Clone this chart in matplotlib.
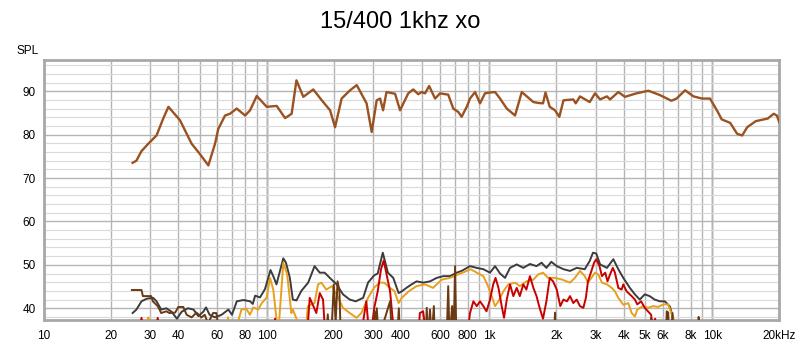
import numpy as np
import matplotlib
matplotlib.use("Agg")
import matplotlib.pyplot as plt

plt.rcParams['font.family'] = ['Liberation Sans', 'DejaVu Sans']
plt.rcParams['lines.solid_joinstyle'] = 'round'

title = "15/400 1khz xo"
y_label = "SPL"

# frequency (Hz), level (dB)
main_resp = np.array([
    (25.0, 73.5), (26.0, 74.0), (27.4, 76.2), (29.4, 77.9), (32.0, 79.8), (34.3, 83.7),
    (36.2, 86.4), (40.8, 83.3), (46.0, 77.9), (50.0, 75.6), (54.7, 72.9), (58.6, 77.9),
    (60.6, 81.3), (65.0, 84.4), (68.4, 84.8), (73.3, 86.0), (80.0, 84.4), (84.2, 85.6),
    (90.2, 88.9), (100, 86.4), (110.9, 86.6), (120.9, 83.8), (129.4, 84.8), (136, 92.5),
    (146, 88.7), (161.8, 90.4), (176.7, 87.9), (192.5, 85.6), (202.7, 81.7), (216.9, 88.3),
    (236.6, 90.2), (253.6, 91.4), (280.8, 87.2), (296, 80.6), (311.7, 87.9), (323, 88.3),
    (333, 85.6), (345, 89.8), (377, 89.4), (397, 85.6), (432, 89.5), (455, 90.4),
    (479, 89.3), (496, 89.8), (514, 89.5), (536, 91.2), (570, 88.3), (600, 89.5),
    (653, 89.2), (688, 86.0), (725, 85.2), (750, 84.1), (791, 86.4), (818, 88.3),
    (862, 89.8), (907, 87.2), (955, 89.5), (1006, 89.7), (1060, 89.8), (1116, 88.3),
    (1196, 86.0), (1303, 84.4), (1397, 89.8), (1495, 88.5), (1575, 87.5), (1656, 87.3),
    (1740, 87.2), (1785, 89.7), (1865, 86.4), (1970, 85.6), (2060, 84.1), (2150, 87.9),
    (2380, 88.1), (2440, 87.2), (2550, 88.8), (2820, 87.5), (2980, 89.5), (3140, 88.1),
    (3370, 88.8), (3480, 88.1), (3790, 89.8), (4060, 88.7), (4570, 89.5), (5170, 90.1),
    (5830, 89.1), (6560, 87.8), (6920, 88.3), (7560, 90.2), (8250, 88.8), (9010, 88.3),
    (9780, 88.3), (10500, 85.6), (11040, 83.5), (12050, 82.7), (12940, 80.2), (13640, 79.8),
    (14370, 81.7), (15700, 83.1), (17770, 83.7), (18900, 84.8), (19520, 84.4), (20000, 82.9),
])

gray_dist = np.array([
    (25.0, 38.9), (26.0, 39.7), (27.4, 41.6), (28.9, 42.2), (30.9, 42.4), (32.0, 41.6),
    (33.6, 39.7), (35.4, 40.0), (37.4, 39.2), (39.5, 37.6), (41.5, 39.2), (44.3, 40.0),
    (46.9, 39.7), (49.3, 38.2), (51.9, 39.2), (53.4, 40.2), (55.4, 38.5), (58.6, 37.9),
    (62.7, 38.5), (67.3, 39.7), (69.8, 38.5), (73.4, 41.6), (78.6, 41.9), (84.2, 41.6),
    (86.6, 41.0), (88.7, 42.9), (93.3, 42.5), (98.2, 44.4), (104, 48.8), (107, 47.4),
    (110.6, 45.5), (118.7, 51.5), (122, 50.5), (127, 47.0), (131, 42.0), (136, 41.8),
    (143, 44.0), (153.5, 45.9), (164, 49.7), (173, 48.2), (182, 48.2), (192, 47.0),
    (206, 45.5), (220, 43.2), (236, 42.0), (251, 41.6), (271, 42.4), (285, 45.9),
    (304, 47.6), (315, 48.0), (332, 52.8), (350, 48.2), (370, 47.0), (391, 43.5),
    (404, 43.9), (424, 44.7), (447, 45.5), (471, 46.2), (505, 45.9), (541, 46.2),
    (580, 47.0), (621, 47.4), (665, 47.4), (713, 48.2), (750, 48.6), (818, 49.7),
    (877, 49.3), (939, 49.0), (1006, 48.2), (1060, 49.7), (1116, 48.0), (1175, 47.0),
    (1237, 49.3), (1326, 50.1), (1419, 49.3), (1520, 50.2), (1627, 49.7), (1713, 50.5),
    (1802, 49.3), (1896, 50.7), (2006, 49.7), (2150, 49.0), (2300, 48.6), (2464, 49.3),
    (2680, 49.0), (2820, 50.9), (2917, 52.8), (3017, 52.6), (3140, 50.1), (3370, 49.3),
    (3600, 51.3), (3790, 49.0), (3990, 47.0), (4270, 44.7), (4500, 43.2), (4730, 42.0),
    (4980, 43.2), (5240, 42.8), (5520, 42.0), (5830, 41.6), (6130, 41.6), (6460, 40.4),
    (6680, 37.7), (6800, 36.0),
])

orange_dist = np.array([
    (26, 30), (29.4, 37.9), (33, 30), (64, 30), (67, 37.9), (70, 30), (73.5, 36.0),
    (77, 39.7), (81, 39.9), (84, 38.5), (87, 40.2), (91.5, 39.7), (95, 41.2), (100, 42.5),
    (103.5, 47.0), (107, 44.3), (110.6, 37.6), (113, 35), (118.7, 50.5), (123.5, 47.8),
    (129, 38.9), (131, 39.7), (136, 37.6), (140, 35), (150, 35), (153, 40.5), (164, 41.2),
    (170, 45.5), (176, 45.9), (185, 44.3), (196, 45.1), (206, 43.2), (220, 40.1),
    (236, 38.9), (253, 37.8), (266, 38.9), (285, 42.4), (304, 44.8), (322, 45.9),
    (337, 45.9), (358, 44.7), (375, 43.9), (391, 41.2), (404, 42.4), (434, 43.9),
    (471, 45.1), (514, 45.5), (558, 44.7), (611, 46.6), (665, 47.0), (725, 47.8),
    (791, 48.6), (823, 49.0), (877, 48.2), (939, 47.4), (985, 45.1), (1023, 42.8),
    (1060, 40.5), (1098, 41.6), (1155, 43.9), (1215, 45.5), (1305, 45.9), (1369, 45.1),
    (1465, 46.2), (1575, 46.6), (1656, 47.8), (1740, 48.2), (1833, 47.0), (1970, 47.0),
    (2120, 46.6), (2300, 45.9), (2420, 47.0), (2550, 48.6), (2680, 47.4), (2770, 45.9),
    (2870, 47.0), (2980, 48.2), (3080, 47.8), (3200, 45.9), (3370, 45.5), (3540, 44.7),
    (3660, 43.9), (3790, 42.4), (3990, 40.8), (4200, 41.2), (4350, 38.9), (4500, 38.1),
    (4610, 39.7), (4890, 40.5), (5150, 40.1), (5430, 40.5), (5720, 40.3), (6040, 40.9),
    (6340, 40.9), (6560, 38.9), (6800, 36.5), (7000, 30),
])

red_dist = np.array([
    (26, 30), (27.4, 37.8), (29, 30), (31, 30), (32.4, 37.8), (34, 30), (105, 30),
    (109, 37.6), (112, 30), (150, 30), (156, 42.4), (162, 40.5), (167, 38.9), (173, 43.5),
    (179, 42.0), (182, 36), (190, 30), (265, 30), (272, 37.5), (280, 41.6), (286, 36),
    (298, 36.5), (304, 40.1), (315, 43.9), (326, 49.0), (335, 51.0), (344, 48.2),
    (358, 43.9), (370, 36), (380, 30), (475, 30), (487, 38.9), (504, 39.3), (513, 36),
    (520, 30), (780, 30), (818, 38.9), (847, 41.6), (877, 40.5), (907, 41.6), (939, 40.5),
    (970, 39.3), (1006, 42.0), (1040, 45.5), (1065, 47.0), (1098, 44.7), (1135, 40.5),
    (1163, 37.8), (1196, 42.0), (1237, 45.5), (1280, 42.8), (1326, 44.7), (1369, 42.8),
    (1419, 45.5), (1465, 44.3), (1520, 47.4), (1575, 44.7), (1627, 42.8), (1680, 40.1),
    (1740, 37.6), (1802, 41.6), (1865, 47.0), (1930, 46.2), (2006, 44.3), (2080, 40.5),
    (2150, 42.0), (2230, 41.6), (2300, 42.8), (2380, 41.2), (2464, 42.0), (2550, 40.5),
    (2640, 40.1), (2710, 42.4), (2770, 46.2), (2870, 48.6), (2950, 50.5), (3017, 51.3),
    (3120, 49.7), (3200, 47.4), (3310, 48.2), (3390, 46.2), (3480, 47.8), (3580, 49.3),
    (3660, 48.2), (3790, 44.7), (3920, 44.3), (3990, 45.5), (4130, 43.9), (4350, 42.8),
    (4500, 42.0), (4610, 40.9), (4800, 41.6), (4980, 40.1), (5150, 39.3), (5320, 38.5),
    (5400, 36), (5550, 37.6), (5700, 30),
])

brown_dist = np.array([
    (24.8, 44.2), (27.4, 44.2), (27.8, 42.8), (30.3, 42.8), (30.8, 41.6), (32.4, 40.5),
    (33.6, 38.9), (35.4, 39.3), (36.6, 38.9), (38.8, 39.0), (40.1, 40.3), (42.2, 40.3),
    (43.7, 38.5), (46.0, 37.9), (48.4, 39.0), (50.9, 37.9), (52.7, 38.5), (54.5, 36.5),
    (57.4, 38.9), (59.4, 38.9), (60.6, 36), (63, 30), (183, 30), (188, 38.6), (192, 30),
    (196, 36), (200, 45.5), (204, 37), (208, 46.2), (212, 44), (216, 30), (300, 30),
    (305, 39.3), (309, 35), (312, 40), (318, 33), (358, 41.6), (365, 33), (385, 33),
    (392, 40.0), (398, 30), (515, 30), (523, 40.1), (530, 33), (541, 39.7), (550, 33),
    (563, 40.5), (570, 30), (640, 30), (653, 45.1), (662, 33), (680, 40.5), (690, 33),
    (701, 49.7), (712, 30), (1940, 30), (1970, 39.0), (2000, 30), (5250, 30), (5320, 37.8),
    (5400, 30), (6200, 30), (6250, 39.3), (6350, 39.0), (6450, 30), (6640, 38.9),
    (6720, 30), (8600, 30), (8700, 38.0), (8800, 30),
])

x_grid = [10, 20, 30, 40, 50, 60, 70, 80, 90, 100, 200, 300, 400, 500, 600, 700, 800, 900,
          1000, 2000, 3000, 4000, 5000, 6000, 7000, 8000, 9000, 10000, 20000]
x_labels = ['10', '20', '30', '40', '', '60', '', '80', '', '100', '200', '300', '400', '',
            '600', '', '800', '', '1k', '2k', '3k', '4k', '5k', '6k', '', '8k', '', '10k', '20kHz']
decades = [100, 1000, 10000]
y_major = [40, 50, 60, 70, 80, 90]

fig = plt.figure(figsize=(8, 3.44), dpi=100)
ax = fig.add_axes([0.055, 0.0698, 0.919, 0.756])

ax.set_xscale('log')
ax.set_xlim(10, 20000)
ax.set_ylim(37.3, 97.2)

ax.set_xticks(x_grid)
ax.set_xticklabels(x_labels)
ax.xaxis.set_minor_locator(plt.NullLocator())
ax.set_yticks(y_major)
ax.set_yticks(np.arange(38, 98, 2), minor=True)

ax.grid(True, which='major', axis='x', color='#b4b4b4', lw=1.0, zorder=0)
ax.grid(True, which='major', axis='y', color='#b4b4b4', lw=1.0, zorder=0)
ax.grid(True, which='minor', axis='y', color='#dadada', lw=0.8, zorder=0)
for d in decades:
    ax.axvline(d, color='#7a7a7a', lw=1.0, zorder=0.5)

ax.tick_params(axis='both', which='both', length=0, labelsize=8.5, colors='black')
ax.tick_params(axis='x', pad=7)
ax.tick_params(axis='y', pad=6)

for s in ax.spines.values():
    s.set_color('#a8a8a8')
    s.set_linewidth(2.0)

ax.plot(main_resp[:, 0], main_resp[:, 1], color='#9a5220', lw=1.7, zorder=3)
ax.plot(gray_dist[:, 0], gray_dist[:, 1], color='#3c3c3c', lw=1.4, zorder=3)
ax.plot(orange_dist[:, 0], orange_dist[:, 1], color='#e8a01c', lw=1.4, zorder=3)
ax.plot(red_dist[:, 0], red_dist[:, 1], color='#c80000', lw=1.4, zorder=3)
ax.plot(brown_dist[:, 0], brown_dist[:, 1], color='#6b3912', lw=1.4, zorder=3)

fig.text(0.5, 0.936, title, ha='center', va='center', fontsize=17)
fig.text(0.034, 0.853, y_label, ha='center', va='center', fontsize=8.5)

fig.savefig('out.png', dpi=100)
